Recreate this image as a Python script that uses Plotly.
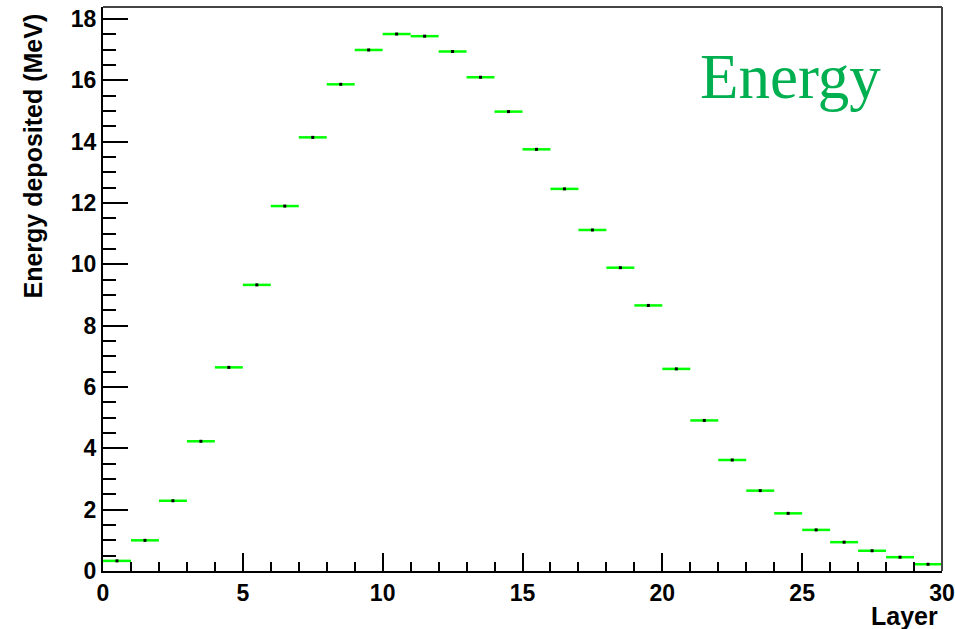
import plotly.graph_objects as go

# Data: energy deposited per layer (bin 0..29, width 1)
layer_low = list(range(30))
energy_mev = [0.33, 1.00, 2.29, 4.23, 6.64, 9.33, 11.90, 14.14, 15.87, 16.99,
              17.51, 17.44, 16.94, 16.10, 14.98, 13.75, 12.46, 11.12, 9.89, 8.66,
              6.59, 4.91, 3.62, 2.62, 1.88, 1.34, 0.94, 0.66, 0.45, 0.22]
bin_width = 1.0

x_ticks = [0, 5, 10, 15, 20, 25, 30]
y_ticks = [0, 2, 4, 6, 8, 10, 12, 14, 16, 18]

centers = [l + bin_width / 2 for l in layer_low]
half = [bin_width / 2] * len(layer_low)

W, H = 955, 629
ML, MR, MT, MB = 103, 13, 7, 58
pw = W - ML - MR
ph = H - MT - MB

def px_x(p):
    return (p - ML) / pw

def px_y(p):
    return (H - MB - p) / ph

fig = go.Figure()
fig.add_trace(go.Scatter(
    x=centers, y=energy_mev, mode="markers",
    marker=dict(color="black", size=3, symbol="square"),
    error_x=dict(type="data", array=half, symmetric=True, color="#00ff00",
                 thickness=2.5, width=0),
    showlegend=False, hoverinfo="x+y",
))

font_ax = dict(family="Liberation Sans, Arial, sans-serif", size=23, color="black", weight="bold")
font_title = dict(family="Liberation Sans, Arial, sans-serif", size=25, color="black", weight="bold")

fig.update_layout(
    width=W, height=H,
    margin=dict(l=ML, r=MR, t=MT, b=MB, pad=0),
    paper_bgcolor="white", plot_bgcolor="white",
    xaxis=dict(
        range=[0, 30], tickvals=x_ticks, ticktext=[str(v) for v in x_ticks],
        ticks="inside", ticklen=18, tickwidth=2, tickcolor="black",
        minor=dict(dtick=1, tick0=0, ticks="inside", ticklen=9, tickwidth=2, tickcolor="black", showgrid=False),
        showline=True, linecolor="black", linewidth=2, mirror=False, automargin=False,
        showgrid=False, zeroline=False, tickfont=font_ax,
    ),
    yaxis=dict(
        range=[0, (H - MB - MT) / 30.667], tickvals=y_ticks, ticktext=[str(v) for v in y_ticks],
        ticks="inside", ticklen=25, tickwidth=2, tickcolor="black",
        minor=dict(dtick=0.5, tick0=0, ticks="inside", ticklen=12.5, tickwidth=2, tickcolor="black", showgrid=False),
        showline=True, linecolor="black", linewidth=2, mirror=False, automargin=False,
        showgrid=False, zeroline=False, tickfont=font_ax,
    ),
    shapes=[
        dict(type="line", xref="paper", yref="paper", x0=0, x1=1, y0=1, y1=1,
             line=dict(color="#444444", width=2)),
        dict(type="line", xref="paper", yref="paper", x0=1, x1=1, y0=0, y1=1,
             line=dict(color="#444444", width=2)),
    ],
    annotations=[
        dict(text="Energy deposited (MeV)", textangle=-90, showarrow=False,
             xref="paper", yref="paper", x=px_x(32), y=px_y(12),
             xanchor="center", yanchor="top", font=font_title),
        dict(text="Layer", showarrow=False, xref="paper", yref="paper",
             x=px_x(940), y=px_y(600), xanchor="right", yanchor="top", font=font_title),
        dict(text="Energy", showarrow=False, xref="paper", yref="paper",
             x=px_x(790), y=px_y(77), xanchor="center", yanchor="middle",
             font=dict(family="Liberation Serif, Times New Roman, serif", size=63, color="#00B050")),
    ],
)

fig.write_html("out.html")
